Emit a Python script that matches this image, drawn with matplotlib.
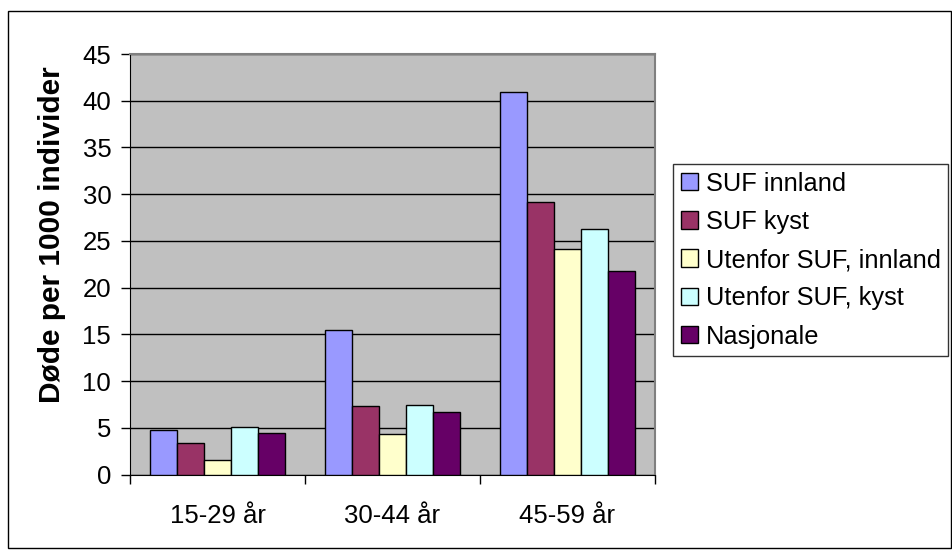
import numpy as np
import matplotlib.pyplot as plt
from matplotlib.patches import Rectangle

plt.rcParams['font.family'] = ['Liberation Sans', 'DejaVu Sans']

# aldersgrupper og dødelighet per 1000 individer
categories = ['15-29 år', '30-44 år', '45-59 år']
series_names = ['SUF innland', 'SUF kyst', 'Utenfor SUF, innland',
                'Utenfor SUF, kyst', 'Nasjonale']
suf_innland = [4.8, 15.5, 40.9]
suf_kyst = [3.4, 7.4, 29.2]
utenfor_innland = [1.6, 4.3, 24.1]
utenfor_kyst = [5.1, 7.5, 26.3]
nasjonale = [4.5, 6.7, 21.8]
series_values = [suf_innland, suf_kyst, utenfor_innland, utenfor_kyst, nasjonale]
series_colors = ['#9999FF', '#993366', '#FFFFCC', '#CCFFFF', '#660066']

fig = plt.figure(figsize=(9.53, 5.5), dpi=100)
ax = fig.add_axes([130 / 953, 1 - 474.7 / 550, 525 / 953, 420.7 / 550])
ax.set_facecolor('#C0C0C0')

n = len(series_values)
barWidth = 1 / (n + 1.5)
x = np.arange(len(categories))
for i, (vals, col, name) in enumerate(zip(series_values, series_colors, series_names)):
    offset = (i - (n - 1) / 2) * barWidth
    ax.bar(x + offset, vals, width=barWidth, color=col, edgecolor='black',
           linewidth=1, label=name, zorder=3)

ax.set_xlim(-0.5, len(categories) - 0.5)
ax.set_ylim(0, 45)
ax.set_yticks(np.arange(0, 46, 5))
ax.yaxis.grid(True, color='black', linewidth=1, zorder=1)
ax.set_axisbelow(True)

ax.set_xticks(x)
ax.set_xticklabels(categories)
ax.set_xticks(np.arange(-0.5, len(categories), 1), minor=True)
ax.tick_params(axis='x', which='major', length=0, pad=21, labelsize=18.5)
ax.tick_params(axis='x', which='minor', length=6.5, width=1, direction='out')
ax.tick_params(axis='y', length=6.5, width=1, direction='out', pad=7, labelsize=18.5)

for side in ['top', 'right']:
    ax.spines[side].set_color('#808080')
    ax.spines[side].set_linewidth(1.5)
ax.spines['left'].set_color('black')
ax.spines['bottom'].set_color('black')

# aksetittel litt over midten av y-aksen
fig.text(52 / 953, 1 - 235 / 550, 'Døde per 1000 individer', rotation=90,
         fontsize=21.5, fontweight='bold', ha='center', va='center')

leg = ax.legend(loc='upper left', bbox_to_anchor=(673 / 953, 1 - 164 / 550),
                bbox_transform=fig.transFigure, fontsize=18.3, frameon=True,
                fancybox=False, edgecolor='black', borderpad=0.3,
                handlelength=0.68, handleheight=0.68, handletextpad=0.3,
                labelspacing=0.56, borderaxespad=0)
leg.get_frame().set_linewidth(1)

# ramme rundt hele diagrammet
fig.patches.append(Rectangle((8 / 953, 2 / 550), 943 / 953, 537 / 550,
                             transform=fig.transFigure, fill=False,
                             edgecolor='black', linewidth=1))

fig.savefig('out.png', dpi=100)
